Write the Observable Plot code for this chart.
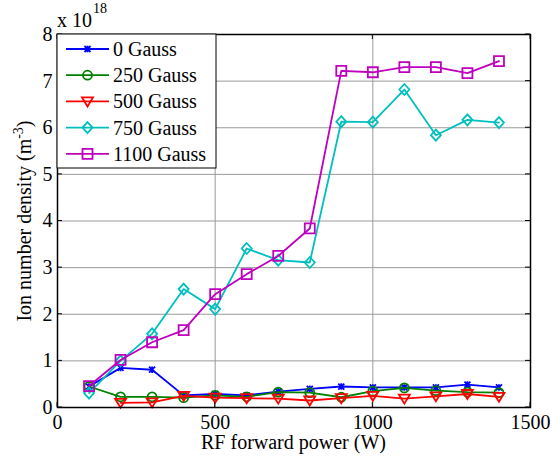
<!DOCTYPE html>
<html><head><meta charset="utf-8">
<script src="https://cdn.jsdelivr.net/npm/d3@7"></script>
<script src="https://cdn.jsdelivr.net/npm/@observablehq/plot@0.6"></script>
<style>body{margin:0;background:#fff}</style>
</head><body><div id="chart"></div>
<script>
// RF forward power (W)
const power = [100,200,300,400,500,600,700,800,900,1000,1100,1200,1300,1400];
const seriesNames = ["0 Gauss","250 Gauss","500 Gauss","750 Gauss","1100 Gauss"];
const seriesColors = ["#0000ff","#008000","#ff0000","#00bfbf","#bf00bf"];
// Ion number density (x 10^18 m^-3)
const g0    = [0.45,0.85,0.81,0.26,0.29,0.26,0.34,0.40,0.45,0.43,0.43,0.43,0.49,0.43];
const g250  = [0.45,0.23,0.23,0.21,0.26,0.23,0.33,0.32,0.22,0.35,0.42,0.36,0.33,0.32];
const g500  = [null,0.10,0.11,0.25,0.21,0.20,0.19,0.15,0.20,0.25,0.19,0.24,0.29,0.23];
const g750  = [0.31,1.00,1.58,2.54,2.11,3.41,3.16,3.11,6.13,6.12,6.82,5.84,6.17,6.11];
const g1100 = [0.46,1.02,1.40,1.66,2.43,2.86,3.25,3.84,7.22,7.19,7.30,7.30,7.17,7.43];
const xTicks = [0,500,1000,1500];
const yTicks = [0,1,2,3,4,5,6,7,8];

const allValues = [g0,g250,g500,g750,g1100];
const rows = [];
allValues.forEach((vals,i)=>vals.forEach((v,j)=>{ if(v!=null) rows.push({power:power[j], n:v, s:seriesNames[i]}); }));

const symbols = [
  {draw(c){const r=3; c.moveTo(-r,-r);c.lineTo(r,r);c.moveTo(-r,r);c.lineTo(r,-r);c.moveTo(0,-r*1.1);c.lineTo(0,r*1.1);}},
  {draw(c){c.moveTo(4.5,0);c.arc(0,0,4.5,0,2*Math.PI);c.closePath();}},
  {draw(c){c.moveTo(-5.5,-4);c.lineTo(5.5,-4);c.lineTo(0,5);c.closePath();}},
  {draw(c){c.moveTo(0,-5.5);c.lineTo(5,0);c.lineTo(0,5.5);c.lineTo(-5,0);c.closePath();}},
  {draw(c){c.moveTo(-5,-5);c.lineTo(5,-5);c.lineTo(5,5);c.lineTo(-5,5);c.closePath();}}
];

const FONT = "\"Liberation Serif\", \"Times New Roman\", serif";
const FS = 20;

const dataMarks = [];
seriesNames.forEach((name,i)=>{
  const d = rows.filter(r=>r.s===name);
  dataMarks.push(Plot.line(d,{x:"power",y:"n",stroke:seriesColors[i],strokeWidth:1.8}));
  dataMarks.push(Plot.dot(d,{x:"power",y:"n",stroke:seriesColors[i],fill:"none",strokeWidth:1.8,symbol:symbols[i],r:4}));
});

const plot = Plot.plot({
  width:552, height:456,
  marginLeft:57, marginRight:22, marginTop:34, marginBottom:49,
  style:{fontFamily:FONT, fontSize:FS+"px", color:"black", background:"white"},
  x:{domain:[0,1500]},
  y:{domain:[0,8]},
  marks:[
    Plot.gridX(xTicks,{stroke:"#9a9a9a",strokeOpacity:1,strokeWidth:1}),
    Plot.gridY(yTicks,{stroke:"#9a9a9a",strokeOpacity:1,strokeWidth:1}),
    Plot.axisX(xTicks,{tickSize:0,tickPadding:7,label:null,fontSize:FS,tickFormat:d=>String(d)}),
    Plot.axisY(yTicks,{tickSize:0,tickPadding:5,label:null,fontSize:FS,tickFormat:d=>String(d)}),
    ...dataMarks,
    Plot.frame({stroke:"black",strokeWidth:1.5})
  ]
});
document.getElementById("chart").appendChild(plot);

const svg = d3.select(plot);
const xs = plot.scale("x"), ys = plot.scale("y");
const x0 = xs.apply(0), x1 = xs.apply(1500), y0 = ys.apply(0), y1 = ys.apply(8);
const tg = svg.append("g").attr("stroke","black").attr("stroke-width",1);
xTicks.forEach(t=>{const px=xs.apply(t);
  tg.append("line").attr("x1",px).attr("x2",px).attr("y1",y0).attr("y2",y0-5);
  tg.append("line").attr("x1",px).attr("x2",px).attr("y1",y1).attr("y2",y1+5);});
yTicks.forEach(t=>{const py=ys.apply(t);
  tg.append("line").attr("y1",py).attr("y2",py).attr("x1",x0).attr("x2",x0+5);
  tg.append("line").attr("y1",py).attr("y2",py).attr("x1",x1).attr("x2",x1-5);});

// axis labels
const yl = svg.append("text").attr("transform","translate(31,221) rotate(-90)")
  .attr("text-anchor","middle").attr("font-family",FONT).attr("font-size",FS).attr("fill","black");
yl.append("tspan").text("Ion number density (m");
yl.append("tspan").attr("dy",-8).attr("font-size",14).text("-3");
yl.append("tspan").attr("dy",8).text(")");
svg.append("text").attr("x",(x0+x1)/2).attr("y",449).attr("text-anchor","middle")
  .attr("font-family",FONT).attr("font-size",FS).attr("fill","black").text("RF forward power (W)");
const ex = svg.append("text").attr("x",57).attr("y",27).attr("text-anchor","start")
  .attr("font-family",FONT).attr("font-size",FS).attr("fill","black");
ex.append("tspan").text("x 10");
ex.append("tspan").attr("dy",-14).attr("dx",1).attr("font-size",14).text("18");

// legend
const lg = svg.append("g");
lg.append("rect").attr("x",x0).attr("y",y1).attr("width",216-x0).attr("height",168-y1)
  .attr("fill","white").attr("stroke","black").attr("stroke-width",1);
seriesNames.forEach((name,i)=>{
  const cy = 49 + i*26.2;
  lg.append("line").attr("x1",66).attr("x2",109).attr("y1",cy).attr("y2",cy)
    .attr("stroke",seriesColors[i]).attr("stroke-width",1.8);
  const p = d3.path(); symbols[i].draw(p, 0);
  lg.append("path").attr("d",p.toString()).attr("transform",`translate(87.5,${cy})`)
    .attr("fill","none").attr("stroke",seriesColors[i]).attr("stroke-width",1.8);
  lg.append("text").attr("x",113).attr("y",cy+7).attr("text-anchor","start")
    .attr("font-family",FONT).attr("font-size",FS).attr("fill","black").text(name);
});
</script></body></html>
